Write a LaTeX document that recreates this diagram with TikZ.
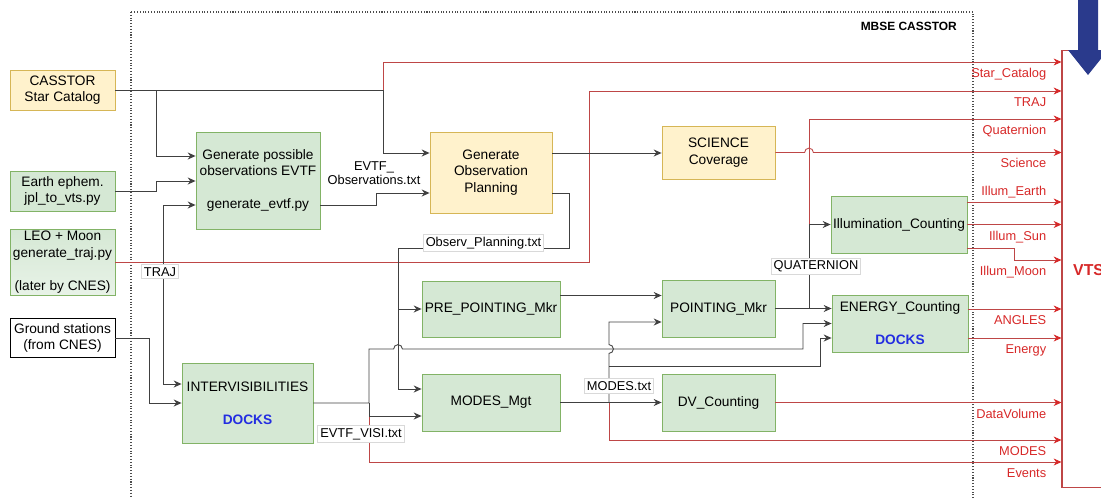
\documentclass[tikz,border=0pt]{standalone}
\usepackage{fontspec}
\setmainfont{Liberation Sans}
\usepackage{xcolor}
\usetikzlibrary{arrows.meta}

\definecolor{boxgreen}{HTML}{D5E8D4}
\definecolor{edgegreen}{HTML}{82B366}
\definecolor{boxyellow}{HTML}{FFF2CC}
\definecolor{edgeyellow}{HTML}{D6B656}
\definecolor{linered}{RGB}{190,70,70}
\definecolor{textred}{RGB}{215,40,40}
\definecolor{docsblue}{RGB}{35,45,225}
\definecolor{vtsblue}{RGB}{42,58,140}

\begin{document}
\begin{tikzpicture}[x=0.02cm,y=-0.02cm,
  box/.style={draw, line width=0.5pt, align=center, inner sep=1pt, font=\fontsize{7.8}{9.4}\selectfont},
  gbox/.style={box, fill=boxgreen, draw=edgegreen},
  ybox/.style={box, fill=boxyellow, draw=edgeyellow},
  link/.style={draw=black!75, line width=0.5pt, -{Stealth[length=4.5pt,width=4pt]}},
  redlink/.style={draw=linered, line width=0.5pt, -{Stealth[length=4.5pt,width=4pt,color=textred]}},
  tag/.style={fill=white, draw=black!15, inner sep=1.5pt, font=\fontsize{7.3}{8.5}\selectfont},
  outlbl/.style={anchor=base east, text=textred, font=\fontsize{7.3}{8.5}\selectfont, xshift=-0.18cm, yshift=-0.31cm},
  outabove/.style={anchor=base east, text=textred, font=\fontsize{7.3}{8.5}\selectfont, xshift=-0.18cm, yshift=0.13cm},
  ]
\useasboundingbox (0,0) rectangle (1101,497);

\draw[densely dotted, black!70, line width=0.6pt] (131,12) rectangle (973,520);
\node[anchor=east, font=\bfseries\fontsize{6.8}{8}\selectfont] (mbse) at (963,26) {MBSE CASSTOR};

\node[ybox, minimum width=2.1cm, minimum height=0.8cm] (cat) at (62.5,90) {CASSTOR\\Star Catalog};
\node[gbox, minimum width=2.1cm, minimum height=0.8cm] (earth) at (62.5,191) {Earth ephem.\\jpl\_to\_vts.py};
\node[gbox, top color=boxgreen, bottom color=boxgreen!55!white, minimum width=2.1cm, minimum height=1.32cm] (leo) at (62.5,262) {LEO + Moon\\generate\_traj.py\\[9.4pt](later by CNES)};
\node[box, fill=white, minimum width=2.1cm, minimum height=0.78cm] (ground) at (62.5,338) {Ground stations\\(from CNES)};
\node[gbox, minimum width=2.48cm, minimum height=1.94cm] (gpo) at (258,180.5) {Generate possible\\observations EVTF\\[9.4pt]generate\_evtf.py};
\node[ybox, minimum width=2.44cm, minimum height=1.62cm] (gop) at (491,172.5) {Generate\\Observation\\Planning};
\node[ybox, minimum width=2.26cm, minimum height=1.06cm] (sci) at (718.5,152.5) {SCIENCE\\Coverage};
\node[gbox, minimum width=2.72cm, minimum height=1.14cm] (illum) at (899,224.5) {Illumination\_Counting};
\node[gbox, minimum width=2.76cm, minimum height=1.12cm] (prep) at (491,309) {PRE\_POINTING\_Mkr};
\node[gbox, minimum width=2.26cm, minimum height=1.14cm] (point) at (718.5,308.5) {POINTING\_Mkr};
\node[gbox, minimum width=2.72cm, minimum height=1.14cm] (energy) at (900,323.5) {ENERGY\_Counting\\[9.4pt]{\color{docsblue}\bfseries DOCKS}};
\node[gbox, minimum width=2.62cm, minimum height=1.6cm] (intervis) at (247.5,403) {INTERVISIBILITIES\\[9.4pt]{\color{docsblue}\bfseries DOCKS}};
\node[gbox, minimum width=2.76cm, minimum height=1.14cm] (modes) at (491,402.5) {MODES\_Mgt};
\node[gbox, minimum width=2.26cm, minimum height=1.14cm] (dv) at (718.5,402.5) {DV\_Counting};

\node[draw=linered, line width=0.6pt, fill=white, minimum width=1.6cm, minimum height=8.76cm] (vts) at (1102,269) {};
\node[anchor=west, text=textred, font=\bfseries\fontsize{9}{10}\selectfont] (vtslbl) at (1067,270) {VTS};
\fill[vtsblue] (1078,-5) -- (1098,-5) -- (1098,50) -- (1108,50) -- (1088,75) -- (1068,50) -- (1078,50) -- cycle;

\coordinate (ja) at (383,90);
\coordinate (jb) at (383,153);
\coordinate (jc) at (156,156);
\coordinate (jd) at (156,181);
\coordinate (je) at (163,205);
\coordinate (jf) at (163,384);
\coordinate (jg) at (149,403);
\coordinate (jh) at (376,193);
\coordinate (ji) at (569,193);
\coordinate (jj) at (569,248);
\coordinate (jk) at (398,248);
\coordinate (jl) at (398,389);
\coordinate (jq) at (809,224.5);
\coordinate (jr) at (809,119);
\coordinate (js) at (369,349);
\coordinate (jt) at (803,323.5);
\coordinate (ju) at (369,416);
\coordinate (jv) at (369,462);
\coordinate (jw) at (609,322);
\coordinate (jx) at (609,366);
\coordinate (jy) at (820,338);
\coordinate (jz) at (609,440);
\coordinate (k1) at (383,62);
\coordinate (k2) at (589,91);
\coordinate (k3) at (1014,260);
\coordinate (x1) at (398,349);
\coordinate (x2) at (609,349);
\coordinate (x3) at (809,152.5);
\coordinate (o1) at ([yshift=0.45cm]illum.east);
\coordinate (o3) at ([yshift=-0.47cm]illum.east);
\coordinate (o4) at ([yshift=0.29cm]energy.east);
\coordinate (o5) at ([yshift=-0.29cm]energy.east);
\coordinate (p1) at ([yshift=0.27cm]prep.east);

\draw[redlink] (ja) -- (k1) -- (k1 -| vts.west) node[outlbl] {Star\_Catalog};
\draw[redlink] (leo.east) -| (k2) -- (k2 -| vts.west) node[outlbl] {TRAJ};
\draw[redlink] (point.east -| jr) -- (jr) -- (jr -| vts.west) node[outlbl] {Quaternion};
\draw[redlink] (sci.east) -- ([xshift=-2.5pt]x3) arc[start angle=180,end angle=0,radius=2.5pt] -- (x3 -| vts.west) node[outlbl] {Science};
\draw[redlink] (o1) -- (o1 -| vts.west) node[outabove] {Illum\_Earth};
\draw[redlink] (illum.east) -- (illum.east -| vts.west) node[outlbl] {Illum\_Sun};
\draw[redlink] (o3) -| (k3) -- (k3 -| vts.west) node[outlbl] {Illum\_Moon};
\draw[redlink] (o4) -- (o4 -| vts.west) node[outlbl] {ANGLES};
\draw[redlink] (o5) -- (o5 -| vts.west) node[outlbl] {Energy};
\draw[redlink] (dv.east) -- (dv.east -| vts.west) node[outlbl] {DataVolume};
\draw[redlink] (modes.east -| jz) -- (jz) -- (jz -| vts.west) node[outlbl] {MODES};
\draw[redlink] (intervis.east -| jv) -- node[tag, pos=0.525, xshift=-0.16cm] {EVTF\_VISI.txt} (jv) -- (jv -| vts.west) node[outlbl] {Events};

\draw[link] (cat.east) -| (jb) -- (jb -| gop.west);
\draw[link] (cat.east -| jc) -- (jc) -- (jc -| gpo.west);
\draw[link] (earth.east) -| (jd) -- (jd -| gpo.west);
\draw[link] (leo.east -| je) -- (je) -- (je -| gpo.west);
\draw[link] (leo.east -| jf) -- node[tag, pos=0.08, xshift=-0.06cm] {TRAJ} (jf) -- (jf -| intervis.west);
\draw[link] (ground.east) -| (jg) -- (intervis.west);
\draw[link] (gpo.east |- je) -| (jh) -- (jh -| gop.west);
\node[align=center, font=\fontsize{7.3}{8.3}\selectfont] (evtfobs) at (374,173) {EVTF\_\\Observations.txt};
\draw[link] (gop.east |- jb) -- (jb -| sci.west);
\draw[link] (gop.east |- ji) -- (ji) -- (jj) -- node[tag, yshift=0.1cm] {Observ\_Planning.txt} (jk) -- (jl) -- (jl -| modes.west);
\draw[link] (jk |- prep.west) -- (prep.west);
\draw[link] (p1) -- (p1 -| point.west);
\draw[link] (point.east) -- (point.east -| energy.west);
\draw[link] (point.east -| jq) -- node[tag, xshift=0.14cm] {QUATERNION} (jq) -- (illum.west);
\draw[link] (intervis.east) -| (js) -- ([xshift=-2.5pt]x1) arc[start angle=180,end angle=0,radius=2.5pt] -- (jt |- js) -- (jt) -- (energy.west);
\draw[link] (intervis.east -| ju) -- (ju) -- (ju -| modes.west);
\draw[link] (modes.east) -- (dv.west);
\draw[link] (modes.east -| jw) -- node[tag, pos=0.34, xshift=0.2cm] {MODES.txt} ([yshift=-2.5pt]x2) arc[start angle=-90,end angle=90,radius=2.5pt] -- (jw) -- (jw -| point.west);
\draw[link] (jx) -| (jy) -- (jy -| energy.west);
\end{tikzpicture}
\end{document}
